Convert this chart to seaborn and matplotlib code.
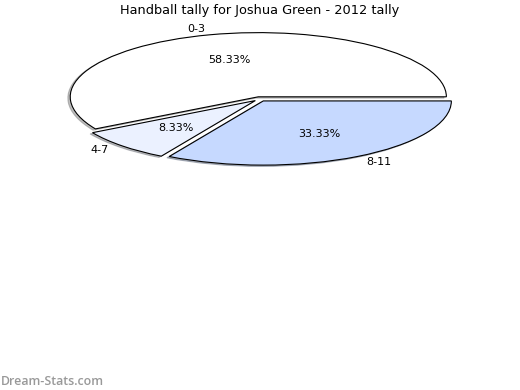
import matplotlib
matplotlib.use("Agg")
import matplotlib.pyplot as plt
import seaborn as sns

categories = ["0-3", "4-7", "8-11"]
values = [7, 1, 4]
colors = ["#FFFFFF", "#EBF1FF", "#C6D9FF"]

sns.set_theme(style="white")
plt.rcParams['font.family'] = ['DejaVu Sans']

fig = plt.figure(figsize=(5.2, 3.9), dpi=100)
ax = fig.add_axes([0.066, 0.5487, 0.868, 0.395])
wedges, texts, autotexts = ax.pie(
    values, labels=categories, colors=colors, startangle=0, counterclock=True,
    explode=[0.035] * len(values),
    shadow=dict(ox=-0.009, oy=-0.014, shade=0.5),
    autopct="%.2f%%", pctdistance=0.6, labeldistance=1.1,
    wedgeprops=dict(edgecolor="black", linewidth=0.8),
    textprops=dict(fontsize=8, color="black"),
)
ax.set_aspect("auto")
ax.set_xlim(-1.2, 1.2)
ax.set_ylim(-1.2, 1.2)
ax.axis("off")

fig.text(0.5, 0.991, "Handball tally for Joshua Green - 2012 tally", ha="center", va="top",
         fontsize=9.3, color="black")
fig.text(0.002, 0.006, "Dream-Stats.com", ha="left", va="bottom", fontsize=8.9,
         color="#999999", family=["Open Sans", "DejaVu Sans"], fontweight="semibold")

fig.savefig("out.png", dpi=100)
